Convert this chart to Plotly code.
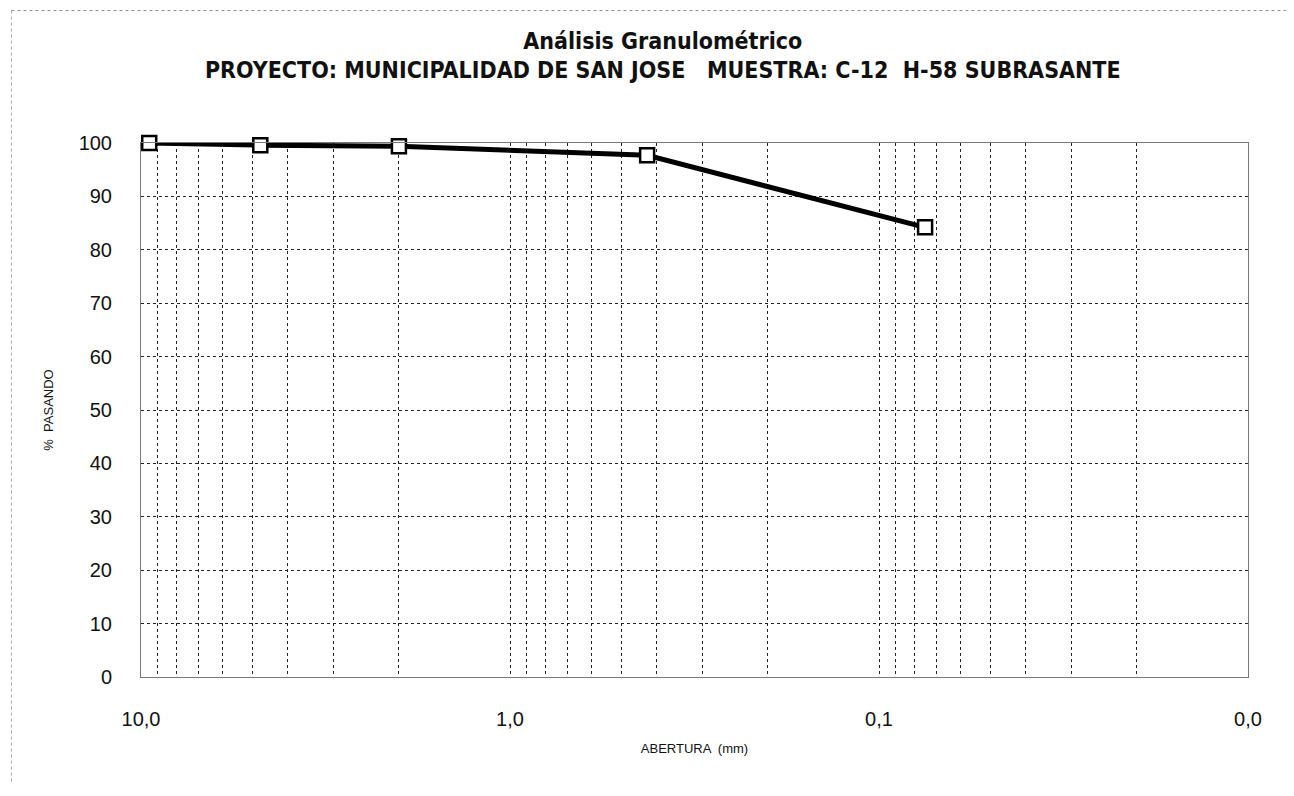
import plotly.graph_objects as go

# Data (sieve opening in mm, % passing)
abertura_mm = [9.5, 4.75, 2.0, 0.425, 0.075]
pct_pasando = [100.0, 99.6, 99.4, 97.7, 84.2]

decade_ticks = [10, 1, 0.1, 0.01]
decade_labels = ["10,0", "1,0", "0,1", "0,0"]
y_ticks = [0, 10, 20, 30, 40, 50, 60, 70, 80, 90, 100]

title_line1 = "Análisis Granulométrico"
title_line2 = "PROYECTO: MUNICIPALIDAD DE SAN JOSE   MUESTRA: C-12  H-58 SUBRASANTE"
x_title = "ABERTURA  (mm)"
y_title = "%  PASANDO"

# Grid values: every digit of every decade, labels only on decades
grid_vals = []
for base in [1, 0.1, 0.01]:
    for k in range(10, 1, -1):
        grid_vals.append(round(k * base, 6))
grid_vals.append(0.01)
grid_text = [decade_labels[decade_ticks.index(v)] if v in decade_ticks else ""
             for v in grid_vals]

tick_font = dict(family="Liberation Sans, Arial, sans-serif", size=20, color="#111")
title_font_family = "DejaVu Sans Condensed, Liberation Sans Narrow, Arial Narrow, sans-serif"

fig = go.Figure()
fig.add_trace(go.Scatter(
    x=abertura_mm, y=pct_pasando,
    mode="lines+markers",
    line=dict(color="black", width=5),
    marker=dict(symbol="square", size=14, color="white",
                line=dict(color="black", width=2.5)),
    cliponaxis=False,
    showlegend=False,
))

fig.update_layout(
    width=1294, height=796,
    margin=dict(l=133, r=54, t=135, b=127),
    paper_bgcolor="white", plot_bgcolor="white",
    title=dict(
        text=f"<b>{title_line1}</b><br><b>{title_line2}</b>",
        x=0.506, xanchor="center", y=0.949, yanchor="top",
        font=dict(family=title_font_family, size=23, color="#111"),
    ),
    xaxis=dict(
        type="log", range=[1, -2],
        tickmode="array", tickvals=grid_vals, ticktext=grid_text,
        showgrid=True, gridcolor="#222", gridwidth=1, griddash="dot",
        ticks="", tickfont=tick_font, ticklabelstandoff=24,
        showline=True, linecolor="#777", linewidth=1, mirror=True,
        zeroline=False,
        title=dict(text=x_title, font=dict(family="Liberation Sans, Arial, sans-serif", size=13, color="#111"), standoff=14),
    ),
    yaxis=dict(
        range=[0, 100], tickmode="array", tickvals=y_ticks,
        showgrid=True, gridcolor="#222", gridwidth=1, griddash="dot",
        ticks="", tickfont=tick_font, ticklabelstandoff=24,
        showline=True, linecolor="#777", linewidth=1, mirror=True,
        zeroline=False,
        title=dict(text=y_title, font=dict(family="Liberation Sans, Arial, sans-serif", size=13, color="#111"), standoff=22),
    ),
)

# faint scanned-page frame at top and left edges
fig.add_shape(type="line", xref="paper", yref="paper",
              x0=-0.117, x1=1.045, y0=1.248, y1=1.248,
              line=dict(color="#888", width=1, dash="dot"))
fig.add_shape(type="line", xref="paper", yref="paper",
              x0=-0.117, x1=-0.117, y0=1.248, y1=-0.2,
              line=dict(color="#aaa", width=1, dash="dot"))

fig.write_html("out.html")
